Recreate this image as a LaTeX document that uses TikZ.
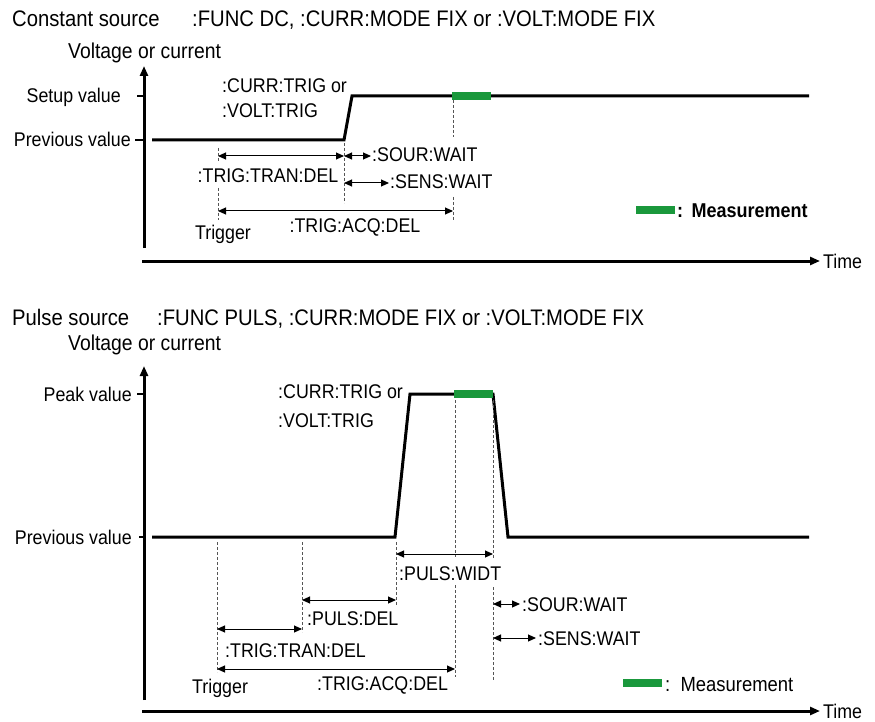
\documentclass[tikz,border=0pt]{standalone}
\usepackage{fontspec}
\setmainfont{Liberation Sans}[FakeStretch=0.9]
\usetikzlibrary{arrows.meta}
\definecolor{measgreen}{RGB}{26,152,60}
\definecolor{dashgray}{RGB}{85,85,85}
\begin{document}
\begin{tikzpicture}[x=1pt,y=-1pt,
  lbl/.style={inner sep=0pt, font=\fontsize{19.8}{22}\selectfont},
  ttl/.style={inner sep=0pt, font=\fontsize{22.5}{25}\selectfont},
  vlab/.style={inner sep=0pt, font=\fontsize{21.5}{24}\selectfont},
  sig/.style={line width=3pt, line join=miter},
  axis/.style={line width=3pt, -{Triangle[length=10pt,width=8pt]}},
  dim/.style={line width=1pt, {Triangle[length=8pt,width=7pt]}-{Triangle[length=8pt,width=7pt]}},
  dsh/.style={line width=0.9pt, dash pattern=on 3pt off 2pt, dashgray},
  meas/.style={line width=7.5pt, measgreen},
  tickmark/.style={line width=1.6pt}]
\useasboundingbox (0,0) rectangle (875,722);

% ================= TOP: constant source =================
\node[ttl, anchor=base west] (t1a) at (12,27) {Constant source};
\node[ttl, anchor=base west] (t1b) at (192,27) {:FUNC DC, :CURR:MODE FIX or :VOLT:MODE FIX};
\node[vlab, anchor=base west] (y1lab) at (68,59) {Voltage or current};

\coordinate (y1b) at (144,248); \coordinate (y1t) at (144,66);
\draw[axis] (y1b) -- (y1t);
\coordinate (x1l) at (142,261); \coordinate (x1r) at (820,261);
\draw[axis] (x1l) -- (x1r);
\node[lbl, anchor=base west] (time1) at (823,268) {Time};

% ticks
\coordinate (s1a) at (137,96); \coordinate (s1b) at (144,96);
\draw[tickmark] (s1a) -- (s1b);
\coordinate (p1a) at (135,140); \coordinate (p1b) at (144,140);
\draw[tickmark] (p1a) -- (p1b);
\node[lbl, anchor=base east] (setup) at (121,103) {Setup value};
\node[lbl, anchor=base east] (prev1) at (131,147) {Previous value};

% signal
\coordinate (a0) at (152,140); \coordinate (a1) at (344,140);
\coordinate (a2) at (352,96);  \coordinate (a3) at (809,96);
\draw[sig] (a0) -- (a1) -- (a2) -- (a3);
\coordinate (m1a) at (452,96); \coordinate (m1b) at (491,96);
\draw[meas] (m1a) -- (m1b);

\node[lbl, anchor=base west] (ct1) at (222,93) {:CURR:TRIG or};
\node[lbl, anchor=base west] (vt1) at (222,118) {:VOLT:TRIG};

% dashed guides
\coordinate (d1a) at (218,148); \coordinate (d1b) at (218,162);
\coordinate (d1c) at (218,188); \coordinate (d1d) at (218,220);
\draw[dsh] (d1a) -- (d1b); \draw[dsh] (d1c) -- (d1d);
\coordinate (d2a) at (344,143); \coordinate (d2b) at (344,203);
\draw[dsh] (d2a) -- (d2b);
\coordinate (d3a) at (453,100); \coordinate (d3b) at (453,137);
\coordinate (d3c) at (453,197); \coordinate (d3d) at (453,220);
\draw[dsh] (d3a) -- (d3b); \draw[dsh] (d3c) -- (d3d);

% dimension arrows
\coordinate (ttd1a) at (218,156); \coordinate (ttd1b) at (344,156);
\draw[dim] (ttd1a) -- (ttd1b);
\node[lbl, anchor=base] (ttdl1) at (268,183) {:TRIG:TRAN:DEL};
\coordinate (sw1a) at (344,156); \coordinate (sw1b) at (371,156);
\draw[dim] (sw1a) -- (sw1b);
\node[lbl, anchor=base west] (swl1) at (372,162) {:SOUR:WAIT};
\coordinate (sn1a) at (344,183); \coordinate (sn1b) at (389,183);
\draw[dim] (sn1a) -- (sn1b);
\node[lbl, anchor=base west] (snl1) at (390,189) {:SENS:WAIT};
\coordinate (ad1a) at (218,211); \coordinate (ad1b) at (453,211);
\draw[dim] (ad1a) -- (ad1b);
\node[lbl, anchor=base] (adl1) at (355,233) {:TRIG:ACQ:DEL};
\node[lbl, anchor=base] (trg1) at (223,240) {Trigger};

% legend
\coordinate (lg1a) at (636,210); \coordinate (lg1b) at (675,210);
\draw[meas] (lg1a) -- (lg1b);
\node[lbl, anchor=base west, font=\fontsize{20}{22}\selectfont\bfseries] (lgl1) at (677,218) {:\ \,Measurement};

% ================= BOTTOM: pulse source =================
\node[ttl, anchor=base west] (t2a) at (12,325) {Pulse source};
\node[ttl, anchor=base west] (t2b) at (157,325) {:FUNC PULS, :CURR:MODE FIX or :VOLT:MODE FIX};
\node[vlab, anchor=base west] (y2lab) at (68,350) {Voltage or current};

\coordinate (y2b) at (144,700); \coordinate (y2t) at (144,366);
\draw[axis] (y2b) -- (y2t);
\coordinate (x2l) at (142,711); \coordinate (x2r) at (820,711);
\draw[axis] (x2l) -- (x2r);
\node[lbl, anchor=base west] (time2) at (823,718) {Time};

\coordinate (pk2a) at (137,394); \coordinate (pk2b) at (144,394);
\draw[tickmark] (pk2a) -- (pk2b);
\coordinate (p2a) at (139,537); \coordinate (p2b) at (144,537);
\draw[tickmark] (p2a) -- (p2b);
\node[lbl, anchor=base east] (peak) at (132,401) {Peak value};
\node[lbl, anchor=base east] (prev2) at (132,544) {Previous value};

% signal
\coordinate (b0) at (152,537); \coordinate (b1) at (395,537);
\coordinate (b2) at (410,394); \coordinate (b3) at (493,394);
\coordinate (b4) at (508,537); \coordinate (b5) at (809,537);
\draw[sig] (b0) -- (b1) -- (b2) -- (b3) -- (b4) -- (b5);
\coordinate (m2a) at (454,394); \coordinate (m2b) at (493,394);
\draw[meas] (m2a) -- (m2b);

\node[lbl, anchor=base west] (ct2) at (278,398) {:CURR:TRIG or};
\node[lbl, anchor=base west] (vt2) at (278,427) {:VOLT:TRIG};

% dashed guides
\coordinate (e1a) at (217,542); \coordinate (e1b) at (217,672);
\draw[dsh] (e1a) -- (e1b);
\coordinate (e2a) at (302,542); \coordinate (e2b) at (302,632);
\draw[dsh] (e2a) -- (e2b);
\coordinate (e3a) at (396,542); \coordinate (e3b) at (396,605);
\draw[dsh] (e3a) -- (e3b);
\coordinate (e4a) at (455,400); \coordinate (e4b) at (455,557);
\coordinate (e4c) at (455,585); \coordinate (e4d) at (455,677);
\draw[dsh] (e4a) -- (e4b); \draw[dsh] (e4c) -- (e4d);
\coordinate (e5a) at (493,400); \coordinate (e5b) at (493,558);
\coordinate (e5c) at (493,587); \coordinate (e5d) at (493,680);
\draw[dsh] (e5a) -- (e5b); \draw[dsh] (e5c) -- (e5d);

% dimension arrows
\coordinate (pw2a) at (396,554); \coordinate (pw2b) at (493,554);
\draw[dim] (pw2a) -- (pw2b);
\node[lbl, anchor=base west] (pwl) at (399,580) {:PULS:WIDT};
\coordinate (pd2a) at (302,600); \coordinate (pd2b) at (396,600);
\draw[dim] (pd2a) -- (pd2b);
\node[lbl, anchor=base west] (pdl) at (307,625) {:PULS:DEL};
\coordinate (tt2a) at (217,629); \coordinate (tt2b) at (302,629);
\draw[dim] (tt2a) -- (tt2b);
\node[lbl, anchor=base west] (ttl2) at (225,657) {:TRIG:TRAN:DEL};
\coordinate (ad2a) at (217,669); \coordinate (ad2b) at (455,669);
\draw[dim] (ad2a) -- (ad2b);
\node[lbl, anchor=base west] (adl2) at (317,690) {:TRIG:ACQ:DEL};
\node[lbl, anchor=base west] (trg2) at (192,693) {Trigger};
\coordinate (sw2a) at (493,604); \coordinate (sw2b) at (520,604);
\draw[dim] (sw2a) -- (sw2b);
\node[lbl, anchor=base west] (swl2) at (522,611) {:SOUR:WAIT};
\coordinate (sn2a) at (493,638); \coordinate (sn2b) at (536,638);
\draw[dim] (sn2a) -- (sn2b);
\node[lbl, anchor=base west] (snl2) at (538,645) {:SENS:WAIT};

% legend
\coordinate (lg2a) at (623,683); \coordinate (lg2b) at (662,683);
\draw[meas] (lg2a) -- (lg2b);
\node[lbl, anchor=base west, font=\fontsize{20.5}{22}\selectfont] (lgl2) at (665,691) {:\ \ Measurement};
\end{tikzpicture}
\end{document}
